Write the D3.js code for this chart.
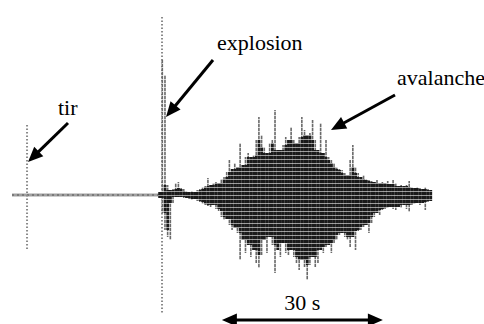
<!DOCTYPE html>
<html><head><meta charset="utf-8">
<script src="https://cdn.jsdelivr.net/npm/d3@7"></script>
<style>html,body{margin:0;padding:0;background:#fff;}svg{display:block;}</style>
</head><body>
<script>
// ---- data (seconds / relative amplitude) ----
const labels = ["tir", "explosion", "avalanche"];
const durationLabel = "30 s";
const scaleBarStart = 39.1, scaleBarLength = 30;
// thin dotted spikes (tir, explosion)
const spikeTimes = [2.8, 27.95];
const spikeUp = [70, 178];
const spikeDown = [55, 118];
// quiet baseline before the explosion
const baselineStart = 0, baselineEnd = 27.5;
// dense trace, one column every 0.5 s starting at 27.5 s
const traceStart = 27.5, traceStep = 0.5;
const traceUp = [3,135,120,10,5,6,12,13,7,
  6,4,3,4,3,5,6,8,9,17,10,12,13,12,16,18,23,35,26,32,28,52,30,38,42,38,40,55,78,60,48,42,52,55,85,45,45,50,58,55,68,55,52,58,78,65,60,62,75,55,45,72,42,55,38,35,32,28,26,25,22,20,35,50,28,22,18,20,16,15,14,13,15,12,13,12,14,11,15,12,9,10,9,10,14,8,7,8,7,6,8,6,5];
const traceDown = [3,18,35,42,45,8,2,2,2,
  3,3,4,5,4,6,7,9,10,11,12,10,14,16,22,25,24,30,35,33,38,65,45,58,50,62,55,68,73,60,45,58,42,50,78,55,62,48,58,60,55,62,68,75,65,72,85,70,62,72,68,55,58,52,50,58,48,45,40,38,42,45,52,42,55,36,35,32,30,38,28,22,18,20,15,14,13,12,14,15,12,13,10,14,17,10,9,8,10,8,15,7,6];

const W = 484, H = 324;
const x = d3.scaleLinear().domain([0, 80]).range([12, 441.4]);
const y = d3.scaleLinear().domain([-180, 180]).range([375, 15]);

const svg = d3.select("body").append("svg").attr("width", W).attr("height", H);
const defs = svg.append("defs");
function stripes(id, dark, light) {
  const p = defs.append("pattern").attr("id", id).attr("patternUnits", "userSpaceOnUse")
    .attr("width", 6).attr("height", 4);
  p.append("rect").attr("width", 6).attr("height", 4).attr("fill", dark);
  p.append("rect").attr("y", 3).attr("width", 6).attr("height", 1).attr("fill", light);
}
stripes("stripes", "#1a1a1a", "#9a9a9a");
stripes("stripesLight", "#6a6a6a", "#cfcfcf");

// baseline
svg.append("rect").attr("x", x(baselineStart)).attr("y", y(1.5))
  .attr("width", x(baselineEnd) - x(baselineStart)).attr("height", y(-1.5) - y(1.5))
  .attr("fill", "#a0a0a0");
svg.append("line").attr("x1", x(baselineStart)).attr("x2", x(baselineEnd))
  .attr("y1", y(0)).attr("y2", y(0)).attr("stroke", "#555").attr("stroke-width", 1)
  .attr("stroke-dasharray", "2,3");

// dotted spikes
svg.selectAll("line.spike").data(spikeTimes).join("line").attr("class", "spike")
  .attr("x1", d => x(d)).attr("x2", d => x(d))
  .attr("y1", (d, i) => y(spikeUp[i])).attr("y2", (d, i) => y(-spikeDown[i]))
  .attr("stroke", "#8a8a8a").attr("stroke-width", 2).attr("stroke-dasharray", "1.5,2");

// dense trace: lighter thin peaks, darker body (local minimum of neighbours)
const colW = x(traceStep) - x(0);
const core = arr => arr.map((v, i) => Math.min(v, arr[i - 1] ?? v, arr[i + 1] ?? v));
const coreUp = core(traceUp), coreDown = core(traceDown);
const tx = i => x(traceStart + i * traceStep);
svg.selectAll("rect.peak").data(traceUp).join("rect").attr("class", "peak")
  .attr("x", (d, i) => tx(i) - colW * 0.3)
  .attr("width", colW * 0.6)
  .attr("y", d => y(d))
  .attr("height", (d, i) => y(-traceDown[i]) - y(d))
  .attr("fill", "url(#stripesLight)");
svg.selectAll("rect.col").data(coreUp).join("rect").attr("class", "col")
  .attr("x", (d, i) => tx(i) - colW / 2)
  .attr("width", colW + 0.15)
  .attr("y", d => y(d))
  .attr("height", (d, i) => y(-coreDown[i]) - y(d))
  .attr("fill", "url(#stripes)");

// annotations
function arrow(x1, y1, x2, y2, both) {
  const head = (tx_, ty_, fx, fy) => {
    const a = Math.atan2(ty_ - fy, tx_ - fx), L = 15, Hw = 6.5;
    const bx = tx_ - L * Math.cos(a), by = ty_ - L * Math.sin(a);
    const nx = -Math.sin(a) * Hw, ny = Math.cos(a) * Hw;
    svg.append("path").attr("d", `M${tx_},${ty_}L${bx + nx},${by + ny}L${bx - nx},${by - ny}Z`).attr("fill", "#000");
    return [bx + 2 * Math.cos(a), by + 2 * Math.sin(a)];
  };
  const e = head(x2, y2, x1, y1);
  let s = [x1, y1];
  if (both) s = head(x1, y1, x2, y2);
  svg.append("line").attr("x1", s[0]).attr("y1", s[1]).attr("x2", e[0]).attr("y2", e[1])
    .attr("stroke", "#000").attr("stroke-width", 3);
}
const labelGroup = svg.append("g");
const labelData = [
  { t: labels[0], px: 58, py: 115, a: "start" },
  { t: labels[1], px: 217, py: 50, a: "start" },
  { t: labels[2], px: 397, py: 85, a: "start" },
  { t: durationLabel, px: (x(scaleBarStart) + x(scaleBarStart + scaleBarLength)) / 2, py: 310, a: "middle" }
];
labelGroup.selectAll("text").data(labelData).join("text")
  .attr("x", d => d.px).attr("y", d => d.py).attr("text-anchor", d => d.a)
  .style("font-family", '"Times New Roman"').style("font-size", "22px")
  .text(d => d.t);
arrow(68, 123, x(spikeTimes[0]) + 1, y(33));
arrow(213, 60, x(spikeTimes[1]) + 4, y(78));
arrow(395, 95, 331, 130);
arrow(x(scaleBarStart), 320, x(scaleBarStart + scaleBarLength), 320, true);
</script>
</body></html>
